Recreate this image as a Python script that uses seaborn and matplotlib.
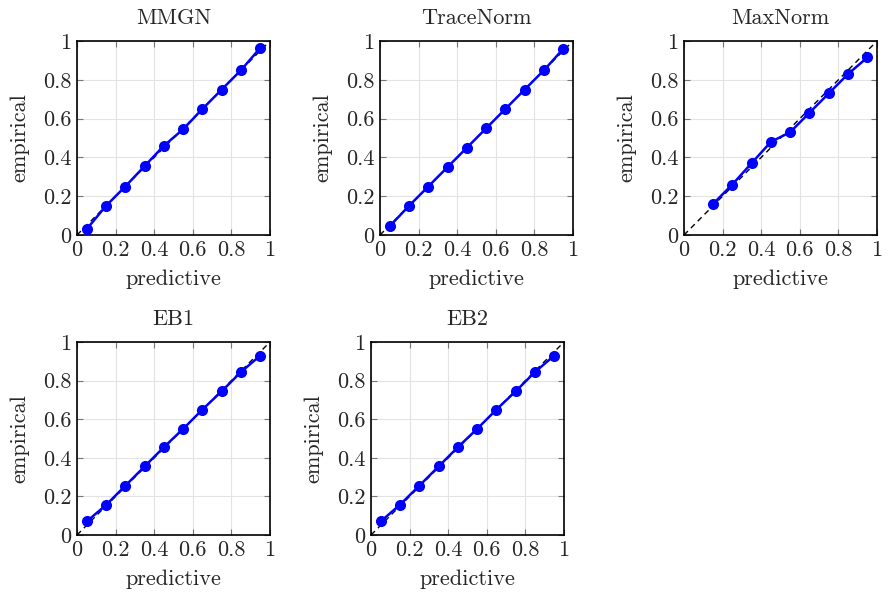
import matplotlib
matplotlib.use('Agg')
import matplotlib.pyplot as plt
import pandas as pd
import seaborn as sns

# predicted probability bins (centres)
pred_full = [0.05, 0.15, 0.25, 0.35, 0.45, 0.55, 0.65, 0.75, 0.85, 0.95]
pred_maxnorm = [0.15, 0.25, 0.35, 0.45, 0.55, 0.65, 0.75, 0.85, 0.95]

emp_mmgn = [0.03, 0.15, 0.25, 0.355, 0.46, 0.545, 0.65, 0.75, 0.85, 0.965]
emp_tracenorm = [0.045, 0.15, 0.25, 0.35, 0.45, 0.55, 0.65, 0.75, 0.85, 0.96]
emp_maxnorm = [0.16, 0.26, 0.37, 0.48, 0.53, 0.63, 0.73, 0.83, 0.915]
emp_eb1 = [0.07, 0.155, 0.255, 0.355, 0.455, 0.55, 0.65, 0.745, 0.845, 0.93]
emp_eb2 = [0.07, 0.157, 0.255, 0.355, 0.455, 0.55, 0.65, 0.745, 0.845, 0.93]

titles = ['MMGN', 'TraceNorm', 'MaxNorm', 'EB1', 'EB2']
tick_vals = [0, 0.2, 0.4, 0.6, 0.8, 1]
tick_labels = ['0', '0.2', '0.4', '0.6', '0.8', '1']

sns.set_style('white')
plt.rcParams['font.family'] = ['cmr10', 'DejaVu Serif']
plt.rcParams['axes.formatter.use_mathtext'] = True
plt.rcParams['font.size'] = 16

W, H = 888, 599
fig = plt.figure(figsize=(W / 100, H / 100), dpi=100)

# axes boxes in pixels: left, right, top, bottom
boxes = [(77, 270, 41, 235), (380, 573, 41, 235), (684, 877, 41, 235),
         (77, 270, 342, 535), (371, 564, 342, 535)]

series = [(pred_full, emp_mmgn), (pred_full, emp_tracenorm), (pred_maxnorm, emp_maxnorm),
          (pred_full, emp_eb1), (pred_full, emp_eb2)]

for (l, r, t, b), title, (px, ey) in zip(boxes, titles, series):
    ax = fig.add_axes([l / W, 1 - b / H, (r - l) / W, (b - t) / H])
    df = pd.DataFrame({'predictive': px, 'empirical': ey})
    ax.plot([0, 1], [0, 1], color='black', linestyle=(0, (4, 3)), linewidth=1, zorder=2)
    sns.lineplot(data=df, x='predictive', y='empirical', ax=ax, color='#0000ff',
                 marker='o', markersize=8, markeredgewidth=0, linewidth=1.8, zorder=3)
    ax.set_xlim(0, 1)
    ax.set_ylim(0, 1)
    ax.set_xticks(tick_vals)
    ax.set_yticks(tick_vals)
    ax.set_xticklabels(tick_labels)
    ax.set_yticklabels(tick_labels)
    ax.grid(True, color='#e3e3e3', linewidth=0.8)
    ax.set_axisbelow(True)
    ax.tick_params(direction='in', length=4, color='#777777', top=True, right=True,
                   bottom=True, left=True, labelsize=16, pad=4)
    for sp in ax.spines.values():
        sp.set_color('black')
        sp.set_linewidth(1.2)
    ax.set_title(title, fontsize=16, pad=12)
    ax.set_xlabel('predictive', fontsize=16, labelpad=7)
    ax.set_ylabel('empirical', fontsize=16, labelpad=10)

fig.savefig('out.png', dpi=100)
